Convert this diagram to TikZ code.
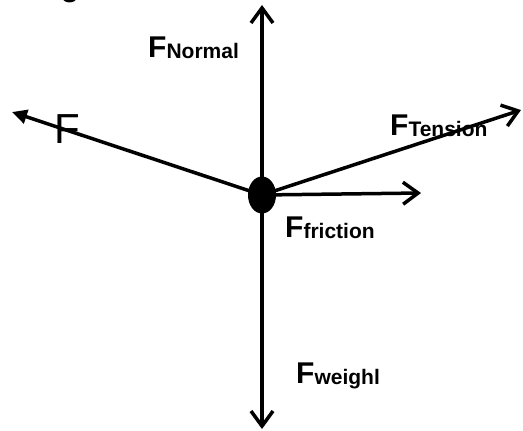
\documentclass[tikz,border=0pt]{standalone}
\usepackage{fontspec}
\setmainfont{Liberation Sans}
\usetikzlibrary{positioning, shapes.geometric, arrows.meta}

\newcommand{\Fsub}[1]{{\fontsize{30}{30}\selectfont F}{\fontsize{21}{21}\selectfont\raisebox{-1.5pt}{#1}}}

\begin{document}
\begin{tikzpicture}[
    x=1pt, y=-1pt,
    force/.style={line width=3.5pt, -{Straight Barb[length=15pt, width=22pt]}},
    push/.style={line width=3.5pt, -{Triangle[length=15pt, width=14pt]}},
    body/.style={ellipse, fill=black, minimum width=28pt, minimum height=37pt, inner sep=0pt},
    flabel/.style={anchor=base west, inner sep=0pt, font=\bfseries}
]
\useasboundingbox (0,0) rectangle (523,431);

% 1. Body (centre)
\node[body] (obj) at (262,195) {};

% 2. Arrow tips
\coordinate (up) at (262,5);
\coordinate (down) at (262,429);
\coordinate (left) at (12,112);
\coordinate (tens) at (521,110);
\coordinate (fric) at (421,193);

% 3. Forces
\draw[force] (obj.center) -- (up);
\draw[force] (obj.center) -- (down);
\draw[push] (obj.center) -- (left);
\draw[force] (obj.center) -- (tens);
\draw[force] (obj.center) -- (fric);

% 4. Labels
\node[flabel] (lnormal) at (148,57) {\Fsub{Normal}};
\node[anchor=base west, inner sep=0pt, font=\fontsize{42}{42}\selectfont] (lpush) at (54,143) {F};
\node[flabel] (ltension) at (390,135) {\Fsub{Tension}};
\node[flabel] (lfriction) at (285,237) {\Fsub{friction}};
\node[flabel] (lweight) at (296,383) {\Fsub{weighl}};

% cut-off heading letter
\node[anchor=south, inner sep=0pt, font=\bfseries\fontsize{30}{30}\selectfont] (head) at (70,3) {g};

\end{tikzpicture}
\end{document}
